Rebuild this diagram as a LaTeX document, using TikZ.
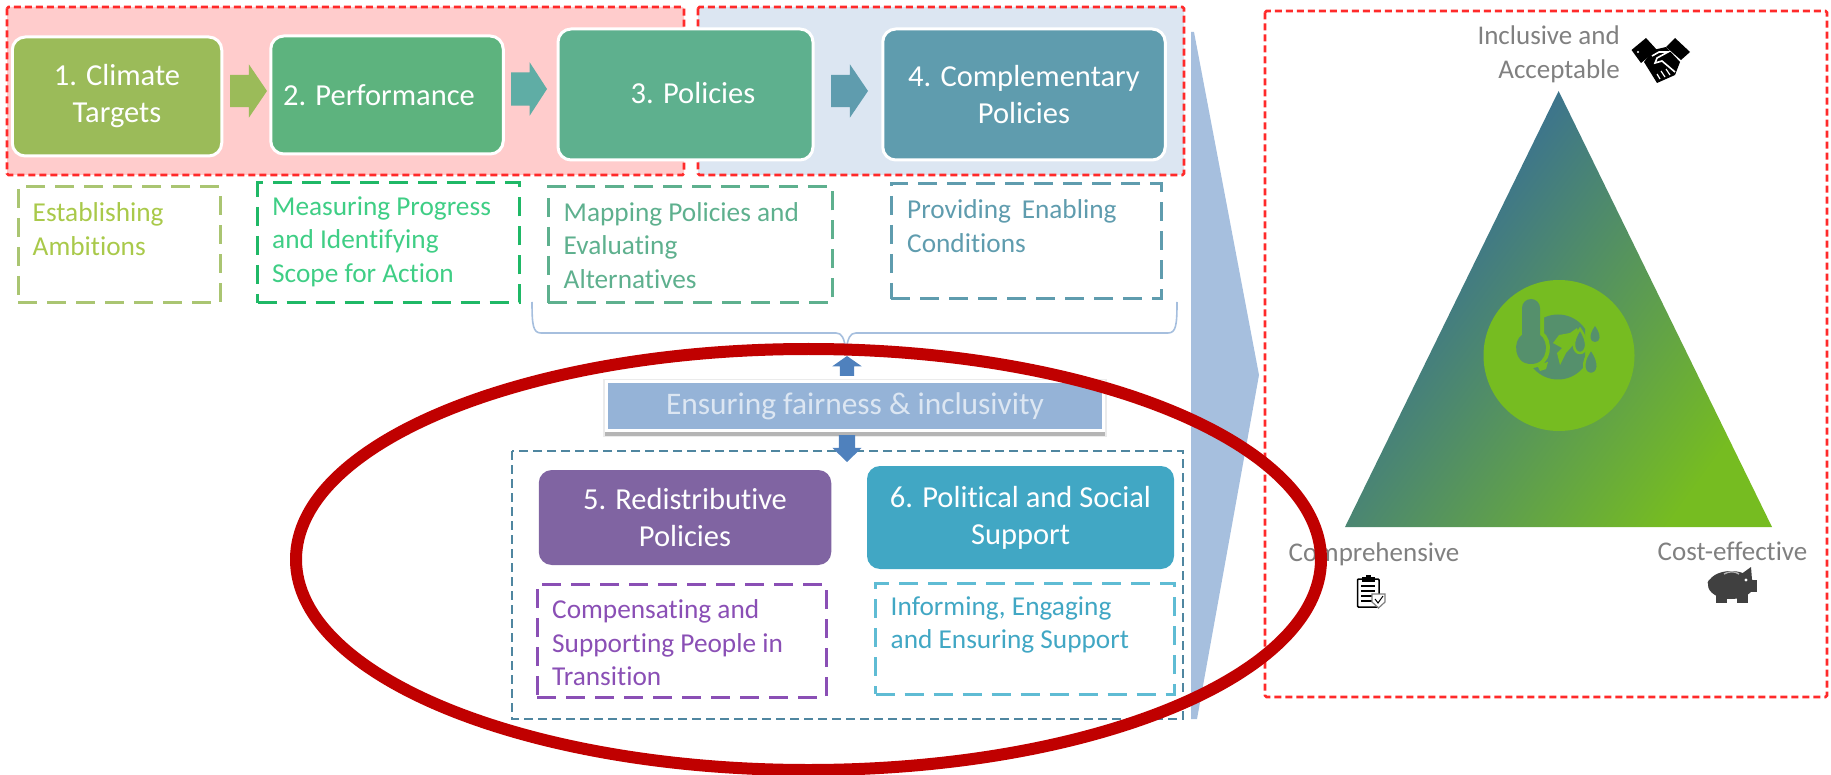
\documentclass[tikz,border=0pt]{standalone}
\usepackage{fontspec}
\setmainfont[Ligatures=NoCommon]{Carlito}
\usetikzlibrary{shapes.arrows,shapes.geometric}
\definecolor{cOne}{HTML}{9BBB59}
\definecolor{cTwo}{HTML}{5DB37E}
\definecolor{cThree}{HTML}{5EB08E}
\definecolor{cFour}{HTML}{5F9CAE}
\definecolor{cFive}{HTML}{8064A2}
\definecolor{cSix}{HTML}{41A7C4}
\definecolor{redDash}{HTML}{FF2A2A}
\definecolor{pinkFill}{HTML}{FFCCCC}
\definecolor{blueFill}{HTML}{DCE6F2}
\definecolor{bigArrow}{HTML}{A6BFDE}
\definecolor{banner}{HTML}{95B3D7}
\definecolor{midArrow}{HTML}{4F81BD}
\definecolor{ringRed}{HTML}{C00000}
\definecolor{greyText}{HTML}{808080}
\definecolor{triTop}{HTML}{2E62A8}
\definecolor{triEnd}{HTML}{76BC21}
\definecolor{iconFill}{HTML}{55906C}
\definecolor{arrowTeal}{HTML}{5FADA5}
\definecolor{noteOneText}{HTML}{A9C94A}
\definecolor{noteTwoLine}{HTML}{1FB866}
\definecolor{noteTwoText}{HTML}{3FCE85}
\definecolor{groupLine}{HTML}{4F86A0}
\definecolor{noteFive}{HTML}{8A4FB5}
\definecolor{noteSix}{HTML}{5FBCD4}
\definecolor{shadowLight}{HTML}{EBEBEB}
\definecolor{shadowGrey}{HTML}{B5B5B5}
\definecolor{pigGrey}{HTML}{404040}
\tikzset{
  x=1pt,y=-1pt,
  zone/.style={draw=redDash,line width=2.6pt,dash pattern=on 7pt off 4pt,rounded corners=1.5pt},
  titlebox/.style={draw=white,line width=3pt,rounded corners=13pt,inner sep=0pt,outer sep=0pt,text=white,align=center,font=\fontsize{30.5}{37}\selectfont},
  titletext/.style={inner sep=0pt,text=white,align=center,font=\fontsize{30.5}{37}\selectfont},
  notebox/.style={line width=3pt,dash pattern=on 19pt off 10pt,inner sep=0pt,outer sep=0pt},
  notetext/.style={inner sep=0pt,anchor=west,align=left,font=\fontsize{27.3}{33.5}\selectfont},
  blockarrow/.style={single arrow,inner xsep=0pt,outer sep=0pt,anchor=tail},
  uparrow/.style={single arrow,inner ysep=0pt,outer sep=0pt,anchor=tail},
  sidetext/.style={inner sep=0pt,text=greyText,font=\fontsize{27}{34}\selectfont},
}
\begin{document}
\begin{tikzpicture}
\useasboundingbox (0,0) rectangle (1831,775);
% zones
\path[zone,fill=pinkFill] (7,7) rectangle (684,175);
\path[zone,fill=blueFill] (698,7) rectangle (1184,175);
% big arrow
\fill[bigArrow] (1191,32) -- (1194,32) -- (1259,375) -- (1197,719) -- (1191,719) -- cycle;
% title boxes
\node[titlebox,fill=cOne,minimum width=209.5pt,minimum height=119pt] (b1) at (117,96.5) {1. Climate\\Targets};
\node[titlebox,fill=cTwo,minimum width=232.5pt,minimum height=118pt] (b2) at (387,95) {};
\node[titletext] (t2) at (379,95.5) {2. Performance};
\node[titlebox,fill=cThree,minimum width=255pt,minimum height=131pt] (b3) at (685.5,94.5) {};
\node[titletext] (t3) at (693,93) {3. Policies};
\node[titlebox,fill=cFour,minimum width=282.5pt,minimum height=131pt] (b4) at (1024,94.5) {4. Complementary\\Policies};
% block arrows between the boxes
\node[blockarrow,inner ysep=16pt,fill=cOne,minimum height=37pt,minimum width=53pt,single arrow head extend=10.5pt,single arrow tip angle=111.6] (a1) at (230,91) {};
\node[blockarrow,inner ysep=16.5pt,fill=arrowTeal,minimum height=36pt,minimum width=53pt,single arrow head extend=10pt,single arrow tip angle=114] (a2) at (511,89) {};
\node[blockarrow,inner ysep=16pt,fill=cFour,minimum height=37pt,minimum width=53pt,single arrow head extend=10.5pt,single arrow tip angle=111.6] (a3) at (831,91) {};
% note boxes
\node[notebox,draw=cOne!85!white,minimum width=202pt,minimum height=116pt] (n1) at (119,245) {};
\node[notetext,text=noteOneText] (m1) at (32.5,229) {Establishing\\Ambitions};
\node[notebox,draw=noteTwoLine,minimum width=261.5pt,minimum height=120pt] (n2) at (388.3,243) {};
\node[notetext,text=noteTwoText] (m2) at (272,241.5) {Measuring Progress\\and Identifying\\Scope for Action};
\node[notebox,draw=cThree,minimum width=284.5pt,minimum height=116pt] (n3) at (690.3,245) {};
\node[notetext,text=cThree] (m3) at (563.5,245.5) {Mapping Policies and\\Evaluating\\Alternatives};
\node[notebox,draw=cFour,minimum width=270pt,minimum height=115pt] (n4) at (1026,241.5) {};
\node[notetext,text=cFour] (m4) at (907,226) {Providing\, Enabling\\Conditions};
% brace
\coordinate (brL) at (532,302);
\coordinate (brR) at (1177,302);
\coordinate (brTip) at (846,350);
\draw[bigArrow,line width=1.6pt,line join=round] (brL) .. controls (532,325) and (533,333) .. (541,333) -- (836,333) .. controls (842,333) and (844,338) .. (brTip);
\draw[bigArrow,line width=1.6pt,line join=round] (brR) .. controls (1177,325) and (1176,333) .. (1168,333) -- (856,333) .. controls (850,333) and (848,338) .. (brTip);
% lower group
\draw[draw=groupLine,line width=2.4pt,dash pattern=on 9pt off 5pt] (512,451) rectangle (1183,719);
\node[titlebox,draw=none,fill=cFive,minimum width=292.5pt,minimum height=95pt] (b5) at (685,517.5) {5. Redistributive\\Policies};
\node[titlebox,draw=none,fill=cSix,minimum width=307pt,minimum height=103pt] (b6) at (1020.5,517.5) {6. Political and Social\\Support};
\node[notebox,draw=noteFive,minimum width=289pt,minimum height=113pt] (n5) at (681.5,640.5) {};
\node[notetext,text=noteFive] (m5) at (552,643) {Compensating and\\Supporting People in\\Transition};
\node[notebox,draw=noteSix,minimum width=299pt,minimum height=111pt] (n6) at (1025,638.5) {};
\node[notetext,text=cSix] (m6) at (890.5,625) {Informing, Engaging\\and Ensuring Support};
% banner
\fill[shadowLight] (603,379) rectangle (1107,437);
\fill[shadowGrey] (605,431) rectangle (1105,436);
\node[fill=banner,draw=white,line width=2.5pt,minimum width=497pt,minimum height=49pt,inner sep=0pt,outer sep=0pt,text=blueFill,font=\fontsize{31.4}{36}\selectfont] (ban) at (855,406) {Ensuring fairness \& inclusivity};
\node[uparrow,inner xsep=7pt,fill=midArrow,shape border rotate=90,minimum height=20pt,minimum width=29pt,single arrow head extend=7.5pt,single arrow tip angle=110] (up) at (847,376) {};
\node[uparrow,inner xsep=8pt,fill=midArrow,shape border rotate=270,minimum height=27pt,minimum width=29pt,single arrow head extend=6.5pt,single arrow tip angle=92] (down) at (847,435) {};
% right panel
\draw[zone] (1265,11) rectangle (1827,697);
\shade[shading=axis,bottom color=triTop,top color=triEnd,shading angle=234] (1558.6,91) -- (1772,527) -- (1345,527) -- cycle;
\fill[triEnd] (1559,355.5) circle[radius=75.5];
% climate icon
\begin{scope}
\clip (1526,300) rectangle (1585,385);
\fill[iconFill] (1558,347) circle[radius=32.5];
\end{scope}
\fill[triEnd] (1577,328) -- (1570,333) -- (1559,335) -- (1553,343) -- (1562,348) -- (1557,353) -- (1560,365) -- (1566,353) -- (1575,343) -- (1578.6,333) -- cycle;
\fill[triEnd] (1537,365) -- (1548,362) -- (1546,369) -- (1540,371) -- cycle;
\path[fill=iconFill,preaction={draw=triEnd,line width=8pt}] (1522,308) arc[start angle=180,end angle=360,x radius=9,y radius=9] -- (1540,335) .. controls (1549,340) and (1549,364) .. (1531,364) .. controls (1513,364) and (1513,340) .. (1522,335) -- cycle;
\fill[iconFill] (1595,326) .. controls (1588,336) and (1590,342) .. (1595,342) .. controls (1600,342) and (1602,336) .. (1595,326) -- cycle;
\fill[iconFill,draw=triEnd,line width=2.5pt] (1580,329) .. controls (1570,343) and (1574,353) .. (1580,353) .. controls (1586,353) and (1590,343) .. (1580,329) -- cycle;
\fill[iconFill,draw=triEnd,line width=2.5pt] (1591,349) .. controls (1580,364) and (1584,374) .. (1591,374) .. controls (1598,374) and (1602,364) .. (1591,349) -- cycle;
% labels
\node[sidetext,anchor=east,align=right] (inc) at (1620,54) {Inclusive and\\Acceptable};
\node[sidetext] (comp) at (1374,554) {Comprehensive};
\node[sidetext] (cost) at (1732.5,551) {Cost-effective};
% handshake icon
\fill[black] (1631.5,50) -- (1646,38) -- (1657,50) -- (1641,63) -- cycle;
\fill[black] (1675,38) -- (1690,52) -- (1681,60) -- (1666,47) -- cycle;
\fill[black] (1644,62) -- (1657,83) -- (1675,75) -- (1680,62) -- (1666,47) -- (1653,50) -- cycle;
\draw[white,line width=1.6pt] (1652,56) -- (1659,52) -- (1668,52) -- (1657,58) -- (1655,63) -- (1662,61) -- (1675,72);
\draw[white,line width=1.2pt] (1660,79) -- (1657,74) (1665,77) -- (1661,71) (1670,75) -- (1666,69);
\fill[white] (1638,52) circle[radius=1.2];
% clipboard icon
\draw[black,line width=1.5pt,fill=white,rounded corners=1pt] (1357.5,579) rectangle (1379,607);
\fill[black] (1362,577) rectangle (1375,582);
\fill[black] (1366,575) rectangle (1371,578);
\foreach \ly in {586,591,596,601} {\draw[black,line width=1.2pt] (1361,\ly) -- (1375,\ly);}
\fill[white,draw=greyText,line width=1.2pt] (1372,594) -- (1385,594) -- (1385,602) -- (1378.5,608) -- (1372,602) -- cycle;
\draw[black,line width=1pt] (1375,599) -- (1378,603) -- (1383,596);
% piggy bank icon
\fill[pigGrey] (1731,585) ellipse[x radius=23,y radius=14];
\fill[pigGrey] (1716,592) rectangle (1727,603);
\fill[pigGrey] (1737,592) rectangle (1748,603);
\fill[pigGrey] (1740,575) -- (1751,567) -- (1752,580) -- cycle;
\fill[pigGrey] (1748,580) rectangle (1757,592);
\draw[pigGrey,line width=2pt] (1710,580) .. controls (1706,583) and (1712,590) .. (1716,584);
\draw[greyText!60!white,line width=1.4pt] (1724,574) .. controls (1729,571) and (1735,571) .. (1739,574);
\fill[white] (1746,580) circle[radius=1.6];
% highlight ring
\node[draw=ringRed,line width=12pt,ellipse,inner sep=0pt,outer sep=0pt,minimum width=1025pt,minimum height=421pt] (ring) at (808.5,559.5) {};
\end{tikzpicture}
\end{document}
